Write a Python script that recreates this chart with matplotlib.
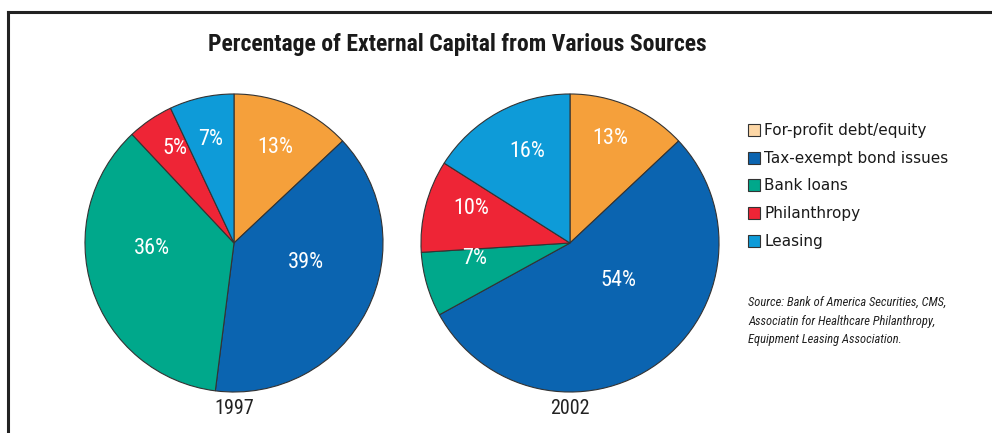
import matplotlib
matplotlib.use("Agg")
import matplotlib.pyplot as plt
from matplotlib.lines import Line2D
from matplotlib.patches import Rectangle
import numpy as np

# --- data ---
sources = ["For-profit debt/equity", "Tax-exempt bond issues", "Bank loans",
           "Philanthropy", "Leasing"]
years = ["1997", "2002"]
share_1997 = [13, 39, 36, 5, 7]
share_2002 = [13, 54, 7, 10, 16]

slice_colors = ["#F5A03B", "#0B64B0", "#00A88B", "#EE2536", "#0E9BD8"]
legend_colors = ["#FDD7A6", "#0B64B0", "#00A88B", "#EE2536", "#0E9BD8"]

# percent label placement: (fraction of radius, clockwise nudge in degrees)
label_pos = {
    "1997": [(0.70, 0), (0.50, -12), (0.55, 14), (0.75, 2), (0.71, 0)],
    "2002": [(0.75, -2), (0.41, -16), (0.65, 7), (0.70, 5), (0.68, 4)],
}

COND = ["Roboto Condensed", "DejaVu Sans"]
W, H = 992, 433

fig = plt.figure(figsize=(W / 100, H / 100), dpi=100)


def px_axes(x0, y0, x1, y1):
    return fig.add_axes([x0 / W, 1 - y1 / H, (x1 - x0) / W, (y1 - y0) / H])


def draw_pie(ax, values, placement):
    wedges, _ = ax.pie(values, colors=slice_colors, startangle=90,
                       counterclock=False, radius=1.0,
                       wedgeprops=dict(edgecolor="#333333", linewidth=0.8))
    for w, v, (d, nudge) in zip(wedges, values, placement):
        mid = np.deg2rad((w.theta1 + w.theta2) / 2 - nudge)
        ax.text(d * np.cos(mid), d * np.sin(mid), f"{v}%", ha="center",
                va="center", color="white", fontsize=16, family=COND)
    ax.set_xlim(-1.02, 1.02)
    ax.set_ylim(-1.02, 1.02)
    ax.set_aspect("equal")
    ax.axis("off")


ax1 = px_axes(82, 91, 386, 395)
draw_pie(ax1, share_1997, label_pos["1997"])
ax2 = px_axes(418, 91, 722, 395)
draw_pie(ax2, share_2002, label_pos["2002"])

fig.text(234 / W, 1 - 408 / H, years[0], ha="center", va="center",
         fontsize=14.5, family=COND, color="#222222")
fig.text(570 / W, 1 - 408 / H, years[1], ha="center", va="center",
         fontsize=14.5, family=COND, color="#222222")

# title
fig.text(457 / W, 1 - 44 / H, "Percentage of External Capital from Various Sources",
         ha="center", va="center", fontsize=17, fontweight="bold",
         family=COND, color="#1a1a1a")

# frame lines
fig.add_artist(Line2D([8 / W, 1.0], [1 - 12 / H, 1 - 12 / H],
                      color="#222222", linewidth=2.2))
fig.add_artist(Line2D([8 / W, 8 / W], [1 - 12 / H, 0.0],
                      color="#222222", linewidth=2.2))

# legend
row_y = [130, 158, 185, 213, 241]
for name, col, y in zip(sources, legend_colors, row_y):
    fig.add_artist(Rectangle((748 / W, 1 - (y + 6) / H), 12 / W, 12 / H,
                             facecolor=col, edgecolor="#333333",
                             linewidth=0.8, transform=fig.transFigure))
    fig.text(764 / W, 1 - y / H, name, ha="left", va="center",
             fontsize=11, color="#1a1a1a")

source_lines = ["Source: Bank of America Securities, CMS,",
                "Associatin for Healthcare Philanthropy,",
                "Equipment Leasing Association."]
for i, line in enumerate(source_lines):
    fig.text(748 / W, 1 - (302 + i * 19) / H, line, ha="left", va="center",
             fontsize=9, style="italic", family=COND, color="#222222")

fig.savefig("out.png", dpi=100)
